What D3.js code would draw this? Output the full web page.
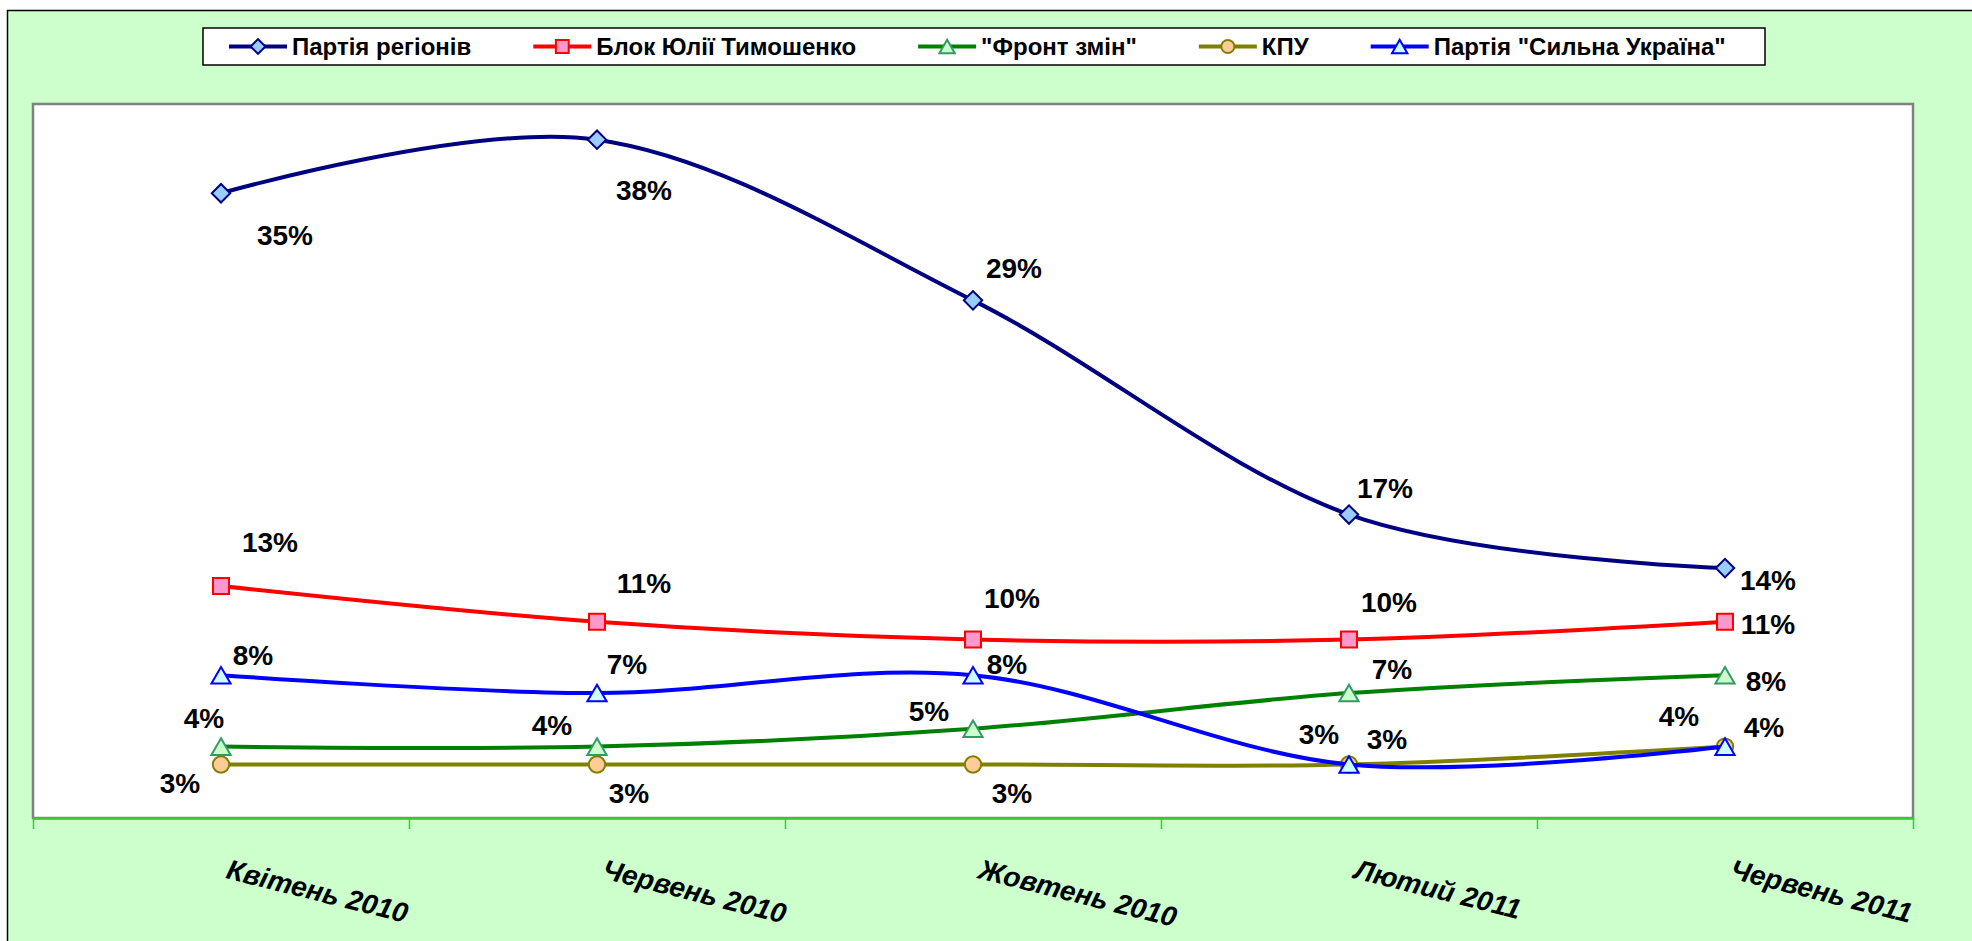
<!DOCTYPE html>
<html>
<head>
<meta charset="utf-8">
<script src="https://cdn.jsdelivr.net/npm/d3@7"></script>
<style>
  body { margin: 0; background: #ffffff; }
  svg { display: block; }
</style>
</head>
<body>
<svg id="chart"></svg>
<script>
// Data
const categories = ["Квітень 2010", "Червень 2010", "Жовтень 2010", "Лютий 2011", "Червень 2011"];
const seriesNames = ["Партія регіонів", "Блок Юлії Тимошенко", "\"Фронт змін\"", "КПУ", "Партія \"Сильна Україна\""];
const regionsParty = [35, 38, 29, 17, 14];
const tymoshenkoBloc = [13, 11, 10, 10, 11];
const frontZmin = [4, 4, 5, 7, 8];
const kpu = [3, 3, 3, 3, 4];
const strongUkraine = [8, 7, 8, 3, 4];
const seriesValues = [regionsParty, tymoshenkoBloc, frontZmin, kpu, strongUkraine];

// Look of each series (Excel-ish palette)
const styles = [
  { line: "#000080", fill: "#99CCFF", stroke: "#000080", shape: "diamond" },
  { line: "#FF0000", fill: "#FF99CC", stroke: "#FF0000", shape: "square" },
  { line: "#008000", fill: "#CCFFCC", stroke: "#339966", shape: "triangle" },
  { line: "#808000", fill: "#FFCC99", stroke: "#808000", shape: "circle" },
  { line: "#0000FF", fill: "#CCFFFF", stroke: "#0000FF", shape: "triangle" }
];

// Where each data label sits relative to its point (px)
const labelNudges = [
  [[64, 42], [47, 51], [41, -32], [36, -26], [43, 12]],
  [[49, -43], [47, -38], [39, -41], [40, -37], [43, 3]],
  [[-17, -28], [-45, -21], [-44, -17], [43, -24], [41, 6]],
  [[-41, 19], [32, 29], [39, 29], [-30, -30], [-46, -30]],
  [[32, -20], [30, -29], [34, -11], [38, -25], [39, -19]]
];

const W = 1972, H = 941;
const plot = { left: 33, right: 1913, top: 104, bottom: 818 };

const svg = d3.select("#chart").attr("width", W).attr("height", H);

// Chart background
svg.append("rect")
  .attr("x", 7.5).attr("y", 10.5)
  .attr("width", W + 20).attr("height", H + 20)
  .attr("fill", "#CCFFCC")
  .attr("stroke", "#000").attr("stroke-width", 1.5);

// Plot area
svg.append("rect")
  .attr("x", plot.left).attr("y", plot.top)
  .attr("width", plot.right - plot.left).attr("height", plot.bottom - plot.top)
  .attr("fill", "#fff")
  .attr("stroke", "#808080").attr("stroke-width", 2.5);

// Scales
const x = d3.scaleBand().domain(categories).range([plot.left, plot.right]);
const xCenter = (c) => x(c) + x.bandwidth() / 2;
const y = d3.scaleLinear().domain([0, 40]).range([plot.bottom, plot.top]);
const xEdges = d3.scaleLinear().domain([0, categories.length]).range([plot.left, plot.right]);

// x axis: ticks between categories
const xAxis = svg.append("g")
  .attr("transform", "translate(0," + plot.bottom + ")")
  .call(d3.axisBottom(xEdges)
    .tickValues(d3.range(categories.length + 1))
    .tickFormat("")
    .tickSize(11)
    .tickSizeOuter(0));
xAxis.select(".domain").attr("stroke", "#33CC33").attr("stroke-width", 2.5);
xAxis.selectAll(".tick line").attr("stroke", "#33CC33").attr("stroke-width", 1.5);

// Category labels, slanted
svg.append("g")
  .selectAll("text")
  .data(categories)
  .enter()
  .append("text")
  .attr("transform", (d) => "translate(" + (xCenter(d) + 4) + "," + (plot.bottom + 60) + ") rotate(14)")
  .attr("font-family", "Liberation Sans, Arial, sans-serif")
  .attr("font-weight", "bold")
  .attr("font-style", "italic")
  .attr("font-size", 28)
  .attr("fill", "#000")
  .text((d) => d);

// Marker path generator
const markerPath = (shape, scale) => {
  const k = scale || 1;
  if (shape === "diamond") return d3.symbol(d3.symbolSquare, 170 * k * k)();
  if (shape === "square") return d3.symbol(d3.symbolSquare, 256 * k * k)();
  if (shape === "circle") return d3.symbol(d3.symbolCircle, 210 * k * k)();
  return d3.symbol(d3.symbolTriangle, 160 * k * k)();
};
const markerTransform = (shape, px, py, scale) => {
  const k = scale || 1;
  if (shape === "diamond") return "translate(" + px + "," + py + ") rotate(45)";
  if (shape === "triangle") {
    const side = Math.sqrt((160 * k * k * 4) / Math.sqrt(3));
    return "translate(" + px + "," + (py + (side * Math.sqrt(3)) / 12) + ")";
  }
  return "translate(" + px + "," + py + ")";
};

const line = d3.line()
  .x((d) => xCenter(d.cat))
  .y((d) => y(d.value))
  .curve(d3.curveCardinal.tension(0));

seriesValues.forEach((values, s) => {
  const st = styles[s];
  const pts = values.map((v, i) => ({ cat: categories[i], value: v }));
  const g = svg.append("g").attr("class", "series");

  g.append("path")
    .datum(pts)
    .attr("d", line)
    .attr("fill", "none")
    .attr("stroke", st.line)
    .attr("stroke-width", 4);

  g.selectAll(".marker")
    .data(pts)
    .enter()
    .append("path")
    .attr("class", "marker")
    .attr("d", markerPath(st.shape))
    .attr("transform", (d) => markerTransform(st.shape, xCenter(d.cat), y(d.value)))
    .attr("fill", st.fill)
    .attr("stroke", st.stroke)
    .attr("stroke-width", 2);
});

// Data labels on top
seriesValues.forEach((values, s) => {
  svg.append("g")
    .selectAll("text")
    .data(values)
    .enter()
    .append("text")
    .attr("x", (d, i) => xCenter(categories[i]) + labelNudges[s][i][0])
    .attr("y", (d, i) => y(d) + labelNudges[s][i][1])
    .attr("text-anchor", "middle")
    .attr("dominant-baseline", "central")
    .attr("font-family", "Liberation Sans, Arial, sans-serif")
    .attr("font-weight", "bold")
    .attr("font-size", 28)
    .attr("fill", "#000")
    .text((d) => d + "%");
});

// Legend
const legend = svg.append("g").attr("id", "legend");
legend.append("rect")
  .attr("x", 203).attr("y", 28)
  .attr("width", 1562).attr("height", 37)
  .attr("fill", "#fff")
  .attr("stroke", "#000").attr("stroke-width", 1.5);

let lx = 229;
const ly = 46.5;
seriesNames.forEach((name, s) => {
  const st = styles[s];
  const item = legend.append("g");
  item.append("line")
    .attr("x1", lx).attr("x2", lx + 58)
    .attr("y1", ly).attr("y2", ly)
    .attr("stroke", st.line).attr("stroke-width", 4);
  item.append("path")
    .attr("d", markerPath(st.shape, 0.8))
    .attr("transform", markerTransform(st.shape, lx + 29, ly, 0.8))
    .attr("fill", st.fill)
    .attr("stroke", st.stroke)
    .attr("stroke-width", 2);
  const t = item.append("text")
    .attr("x", lx + 63)
    .attr("y", ly + 8.5)
    .attr("font-family", "Liberation Sans, Arial, sans-serif")
    .attr("font-weight", "bold")
    .attr("font-size", 24)
    .attr("fill", "#000")
    .text(name);
  lx += 63 + t.node().getComputedTextLength() + 62;
});
</script>
</body>
</html>
